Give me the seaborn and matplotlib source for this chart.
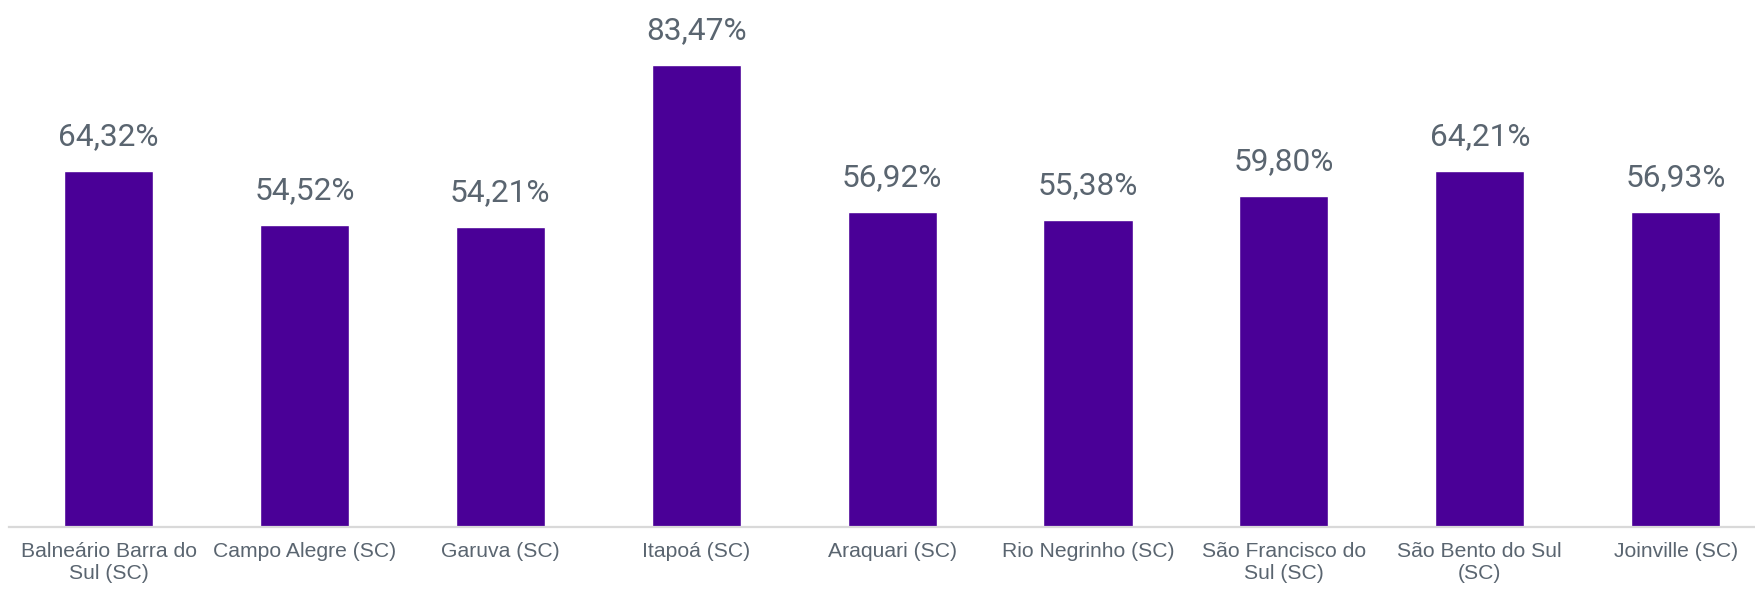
import matplotlib
matplotlib.use("Agg")
import matplotlib.pyplot as plt
import seaborn as sns
import pandas as pd

municipios = [
    "Balneário Barra do\nSul (SC)",
    "Campo Alegre (SC)",
    "Garuva (SC)",
    "Itapoá (SC)",
    "Araquari (SC)",
    "Rio Negrinho (SC)",
    "São Francisco do\nSul (SC)",
    "São Bento do Sul\n(SC)",
    "Joinville (SC)",
]
percentuais = [64.32, 54.52, 54.21, 83.47, 56.92, 55.38, 59.80, 64.21, 56.93]

df = pd.DataFrame({"municipio": municipios, "pct": percentuais})

sns.set_theme(style="white")
plt.rcParams["font.family"] = ["Liberation Sans", "DejaVu Sans"]

fig = plt.figure(figsize=(17.56, 5.89), dpi=100)
ax = fig.add_axes([9 / 1756, (589 - 526.5) / 589, 1 - 9 / 1756, 526.5 / 589])

sns.barplot(data=df, x="municipio", y="pct", color="#4a0097", width=0.455,
            saturation=1, ax=ax)

for i, v in enumerate(percentuais):
    ax.annotate(f"{v:.2f}%".replace(".", ","), (i, v), xytext=(0, 18.7),
                textcoords="offset points", ha="center", va="baseline",
                fontsize=22.8, color="#5a6570", family=["Roboto", "DejaVu Sans"])

ax.set_xlim(-0.508, 8.41)
ax.set_ylim(0, 95.2)
ax.set_xlabel("")
ax.set_ylabel("")
ax.set_yticks([])
ax.tick_params(axis="x", length=0, pad=11.5, labelsize=15.2, labelcolor="#5a6570")
for lbl in ax.get_xticklabels():
    lbl.set_linespacing(1.15)
for s in ["top", "right", "left"]:
    ax.spines[s].set_visible(False)
ax.spines["bottom"].set_color("#d9d9d9")
ax.spines["bottom"].set_linewidth(1.6)

fig.savefig("out.png", dpi=100, facecolor="white")
